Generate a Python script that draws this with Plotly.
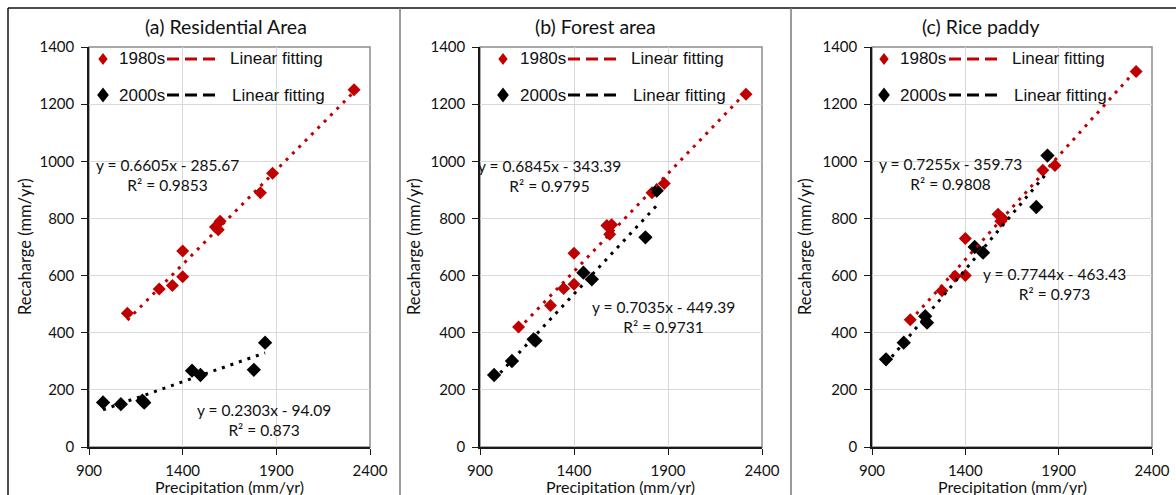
import plotly.graph_objects as go

# ---------------- data ----------------
panel_titles = ["(a) Residential Area", "(b) Forest area", "(c) Rice paddy"]

precip_1980s = [1105, 1275, 1345, 1400, 1400, 1575, 1590, 1600, 1815, 1880, 2315]
precip_2000s = [975, 1070, 1185, 1195, 1450, 1495, 1780, 1840]

residential_1980s = [468, 553, 565, 596, 686, 770, 760, 790, 890, 958, 1250]
residential_2000s = [156, 150, 162, 155, 267, 252, 270, 365]
forest_1980s = [420, 495, 555, 570, 678, 775, 745, 778, 890, 922, 1235]
forest_2000s = [252, 301, 377, 372, 610, 587, 734, 897]
rice_1980s = [445, 547, 598, 600, 730, 815, 790, 800, 969, 985, 1314]
rice_2000s = [307, 365, 458, 435, 700, 680, 840, 1020]

slope_1980s = [0.6605, 0.6845, 0.7255]
intercept_1980s = [-285.67, -343.39, -359.73]
r2_1980s = ["0.9853", "0.9795", "0.9808"]
slope_2000s = [0.2303, 0.7035, 0.7744]
intercept_2000s = [-94.09, -449.39, -463.43]
r2_2000s = ["0.873", "0.9731", "0.973"]

# equation label anchor positions (data coords)
eq1980_pos = [(1319, 952), (1267, 948), (1318, 955)]
eq2000_pos = [(1834, 95), (1874, 455), (1875, 572)]

series_1980s = [residential_1980s, forest_1980s, rice_1980s]
series_2000s = [residential_2000s, forest_2000s, rice_2000s]

x_ticks = [900, 1400, 1900, 2400]
y_ticks = [0, 200, 400, 600, 800, 1000, 1200, 1400]

# ---------------- layout geometry (page pixels) ----------------
W, H = 1176, 495
plot_left = [89, 480, 872]
plot_right = [370, 762, 1152]
plot_top, plot_bottom = 47, 447
title_cx = [225.5, 595, 980.5]
xlabel_cx = [229, 621, 1012]
ylabel_cx = [25, 414, 805]
# legend offsets relative to plot left: diamond, label, dash start, dash end, fit label
legend_off = [(14, 28, 78, 128, 139), (23, 38, 88, 137, 149), (12, 26, 77, 126, 138)]
legend_rows = [59, 95]

RED = "#C00000"
BLACK = "#000000"
FONT = "Lato"
TXT = "#111111"


def X(px):
    return px / W


def Y(py):
    return 1 - py / H


fig = go.Figure()
shapes = []
annotations = []

for i in range(3):
    ax = "" if i == 0 else str(i + 1)
    xa, ya = "x" + ax, "y" + ax

    # data markers
    fig.add_trace(go.Scatter(
        x=precip_1980s, y=series_1980s[i], mode="markers", xaxis=xa, yaxis=ya,
        marker=dict(symbol="diamond", size=10, color=RED), showlegend=False))
    fig.add_trace(go.Scatter(
        x=precip_2000s, y=series_2000s[i], mode="markers", xaxis=xa, yaxis=ya,
        marker=dict(symbol="diamond", size=11, color=BLACK), showlegend=False))

    # trend lines
    for px_, s, b, c in [(precip_1980s, slope_1980s[i], intercept_1980s[i], RED),
                         (precip_2000s, slope_2000s[i], intercept_2000s[i], BLACK)]:
        xs = [min(px_), max(px_)]
        ys = [s * v + b for v in xs]
        fig.add_trace(go.Scatter(
            x=xs, y=ys, mode="lines", xaxis=xa, yaxis=ya,
            line=dict(color=c, width=3, dash="3px,6px"), showlegend=False,
            hoverinfo="skip"))

    dom = [X(plot_left[i]), X(plot_right[i])]
    axis_common = dict(
        showline=True, linecolor="#1a1a1a", linewidth=1.5, mirror=False,
        ticks="outside", ticklen=6, tickcolor="#1a1a1a", tickwidth=1.2,
        showgrid=True, gridcolor="#d9d9d9", gridwidth=1, zeroline=False,
        automargin=False,
        tickfont=dict(family=FONT, size=15, color=TXT))
    fig.update_layout(**{
        "xaxis" + ax: dict(domain=dom, range=[900, 2400], tickvals=x_ticks,
                           anchor=ya, ticklabelstandoff=3, **axis_common),
        "yaxis" + ax: dict(domain=[Y(plot_bottom), Y(plot_top)], range=[0, 1400],
                           tickvals=y_ticks, anchor=xa, ticklabelstandoff=4,
                           **axis_common),
    })

    # gray plot-area frame (top/right)
    shapes.append(dict(type="rect", xref=xa + " domain", yref=ya + " domain",
                       x0=0, x1=1, y0=0, y1=1, line=dict(color="#8c8c8c", width=1.5),
                       layer="below"))

    # equations
    for (ex, ey), s, b, r2 in [(eq1980_pos[i], slope_1980s[i], intercept_1980s[i], r2_1980s[i]),
                               (eq2000_pos[i], slope_2000s[i], intercept_2000s[i], r2_2000s[i])]:
        annotations.append(dict(
            x=ex, y=ey, xref=xa, yref=ya, showarrow=False, align="center",
            xanchor="center", yanchor="middle",
            text=f"y = {s:.4f}x - {abs(b):.2f}<br>R² = {r2}",
            font=dict(family=FONT, size=15.5, color=TXT)))

    # titles and axis titles
    annotations.append(dict(x=X(title_cx[i]), y=Y(26), xref="paper", yref="paper",
                            xanchor="center", yanchor="middle",
                            text=panel_titles[i], showarrow=False,
                            font=dict(family=FONT, size=19.5, color=TXT)))
    annotations.append(dict(x=X(xlabel_cx[i]), y=Y(486.5), xref="paper", yref="paper",
                            xanchor="center", yanchor="middle",
                            text="Precipitation (mm/yr)", showarrow=False,
                            font=dict(family=FONT, size=16, color=TXT)))
    annotations.append(dict(x=X(ylabel_cx[i]), y=Y(247), xref="paper", yref="paper",
                            xanchor="center", yanchor="middle",
                            text="Recaharge (mm/yr)", showarrow=False, textangle=-90,
                            font=dict(family=FONT, size=16.5, color=TXT)))

    # legend
    d_dx, t_dx, ds_dx, de_dx, f_dx = legend_off[i]
    L = plot_left[i]
    for row, (lab, col, half) in enumerate([("1980s", RED, 6), ("2000s", BLACK, 7.5)]):
        ry = legend_rows[row]
        cx = L + d_dx
        hw = half * 0.78
        path = (f"M {X(cx)} {Y(ry - half)} L {X(cx + hw)} {Y(ry)} "
                f"L {X(cx)} {Y(ry + half)} L {X(cx - hw)} {Y(ry)} Z")
        shapes.append(dict(type="path", xref="paper", yref="paper", path=path,
                           fillcolor=col, line=dict(color=col, width=0)))
        annotations.append(dict(x=X(L + t_dx), y=Y(ry), xref="paper", yref="paper",
                                xanchor="left", yanchor="middle", text=lab, showarrow=False,
                                font=dict(family="Liberation Sans", size=17, color=TXT)))
        shapes.append(dict(type="line", xref="paper", yref="paper",
                           x0=X(L + ds_dx), x1=X(L + de_dx), y0=Y(ry), y1=Y(ry),
                           line=dict(color=col, width=3, dash="12px,6px")))
        annotations.append(dict(x=X(L + f_dx + (2 if row else 0)), y=Y(ry),
                                xref="paper", yref="paper", xanchor="left", yanchor="middle",
                                text="Linear fitting", showarrow=False,
                                font=dict(family="Liberation Sans", size=17, color=TXT)))

# outer frame and separators
shapes.append(dict(type="line", xref="paper", yref="paper", x0=X(8), x1=1,
                   y0=Y(8), y1=Y(8), line=dict(color="#111", width=1.5)))
shapes.append(dict(type="line", xref="paper", yref="paper", x0=X(8), x1=X(8),
                   y0=0, y1=Y(8), line=dict(color="#111", width=1.5)))
for sx in [400, 791]:
    shapes.append(dict(type="line", xref="paper", yref="paper", x0=X(sx), x1=X(sx),
                       y0=0, y1=Y(8), line=dict(color="#7a7a7a", width=1.5)))

fig.update_layout(
    width=W, height=H, margin=dict(l=0, r=0, t=0, b=0, pad=0, autoexpand=False),
    paper_bgcolor="white", plot_bgcolor="white",
    shapes=shapes, annotations=annotations, showlegend=False)

fig.write_html("out.html")
